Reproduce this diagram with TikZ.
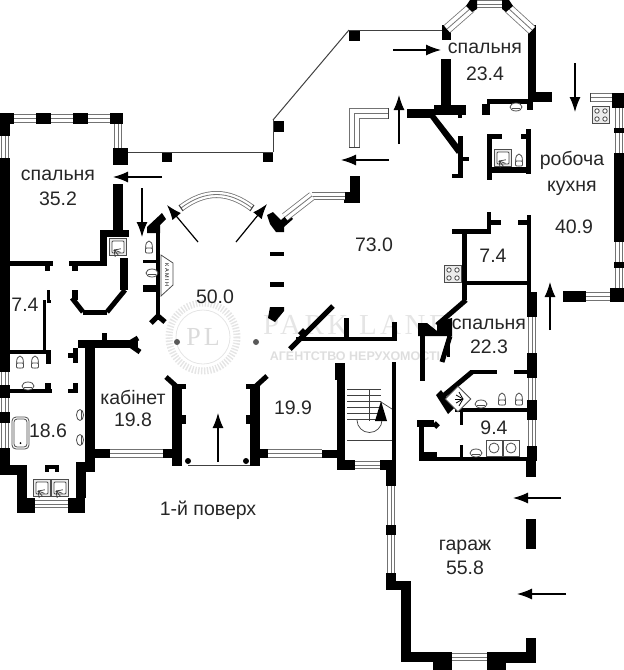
\documentclass[tikz,border=0pt]{standalone}
\usepackage{fontspec}
\setmainfont{Liberation Sans}
\newfontfamily\markfont[LetterSpace=12]{Liberation Serif}
\usetikzlibrary{arrows.meta}
%% window as three layers along a path
\newcommand{\winpath}[2][8.5pt]{%
  \draw[line width=#1,draw=black!55,line join=miter] #2;
  \draw[line width=#1-1.6pt,draw=white,line join=miter] #2;
  \draw[line width=.8pt,draw=black!55,line join=miter] #2;
}
\newcommand{\showerat}[2]{%
  \draw[fixture,fill=black!8] (#1-8.5,#2-8.5) rectangle (#1+8.5,#2+8.5);
  \draw[fixture,fill=white,rounded corners=1pt] (#1-6,#2-6) rectangle (#1+6,#2+6);
  \foreach \ang in {-10,20,50,80} {
    \draw[line width=.7pt,draw=black!80] (#1-4,#2+3) -- ++(\ang:7);
  }
}
\newcommand{\stoveat}[2]{%
  \draw[fixture,fill=black!8] (#1-8.5,#2-8.5) rectangle (#1+8.5,#2+8.5);
  \foreach \dx/\dy in {-4/-4,4/-4,-4/4,4/4} {
    \draw[fixture,fill=white] (#1+\dx,#2+\dy) circle (2.2);
  }
}
\newcommand{\toiletat}[2]{%
  \draw[fixture,fill=white] (#1,#2+2) ellipse (3.4 and 6);
  \draw[fixture,fill=white,rounded corners=1pt] (#1-3.5,#2+3) rectangle (#1+3.5,#2+8);
}
\newcommand{\sinkat}[2]{%
  \draw[fixture,fill=white] (#1,#2) ellipse (6 and 4);
  \draw[fixture] (#1-4,#2+1) -- (#1+4,#2+1);
}
\begin{document}
\begin{tikzpicture}
[x=1pt,y=-1pt,
  fixture/.style={draw=black!70,line width=.8pt},
  thinwall/.style={draw=black!75,line width=1pt},
  wallline/.style={draw=black,line width=5pt},
  arrowmark/.style={draw=black,line width=1.2pt,-{Latex[length=15pt,width=11pt]}},
  roomlabel/.style={font=\fontsize{19.5}{22}\selectfont,text=black!85,inner sep=0pt}]
\useasboundingbox (0,0) rectangle (624,670);
%% watermark
\draw[black!10,line width=7pt,dash pattern=on 1.4pt off 1.6pt] (203,337) circle (34);
\draw[black!10,line width=.8pt] (203,337) circle (27);
\node (markpl) at (203,337) [text=black!14,font=\markfont\fontsize{26}{28}\selectfont] {PL};
\node (markname) at (355,325) [text=black!10,font=\markfont\fontsize{29}{31}\selectfont] {PARK LANE};
\node (markagency) at (355,356) [text=black!13,font=\bfseries\fontsize{12.5}{14}\selectfont] {АГЕНТСТВО НЕРУХОМОСТІ};
%% solid walls
\foreach \xa/\ya/\xb/\yb in {
  0/113/14/124, 36/113/51/124, 73/113/88/124, 110/113/123/124,
  0/113/10/136, 0/158/10/372, 0/385/10/398, 0/412/10/423, 0/448/10/475,
  113/148/128/165, 113/184/123/235, 100/230/129/237, 100/237/107/265,
  120/258/128/290, 10/261/53/266, 69/261/107/266, 45/266/50/271, 72/266/78/271,
  47/290/50/300, 72/290/78/300, 43/300/46/353, 47/300/51/303,
  10/350/48/354, 46/350/51/364, 10/389/52/393, 45/383/51/393,
  68/389/78/393, 73/383/78/389, 68/353/78/358, 73/348/78/363,
  78/340/138/348, 102/333/107/340, 85/345/95/472, 95/449/110/458, 163/449/175/458,
  172/385/182/466, 173/384/186/389, 182/415/186/424,
  250/385/260/466, 246/384/255/389, 246/415/250/424, 260/449/268/458,
  0/465/27/475, 17/465/27/505, 17/498/35/513, 68/498/85/513, 76/463/86/498, 76/462/95/472,
  45/465/59/469, 45/465/49/472, 55/465/59/472,
  %% centre
  156/233/160/320, 143/260/157/263, 143/285/157/292,
  162/152/172/162, 263/152/273/162, 273/121/284/132, 349/30/360/41,
  270/252/284/256, 270/282/284/287,
  344/192/360/203, 350/176/360/200,
  296/337/397/341, 344/318/349/338, 392/322/397/338,
  %% upper bedroom
  441/59/451/105, 442/25/451/40, 528/25/536/100, 528/92/552/102,
  487/99/528/104, 482/104/490/115, 527/102/533/110,
  407/109/434/118, 434/105/466/115, 458/115/462/118,
  458/136/463/178, 463/157/469/161, 452/174/463/178,
  487/134/492/180, 487/134/502/139, 521/134/531/139, 526/129/531/174, 487/167/531/173,
  %% kitchen
  612/93/624/108, 614/128/624/133, 614/153/624/242, 614/262/624/268, 610/288/624/302,
  563/291/586/302, 452/229/491/234, 462/229/467/300, 487/212/491/231, 491/220/501/225,
  518/220/527/225, 527/215/531/292, 465/281/527/285,
  527/292/537/317, 527/353/537/378, 527/400/537/420, 527/446/537/461,
  %% lower right rooms
  420/335/425/381, 470/370/497/374, 514/370/527/374, 455/408/527/412,
  460/410/463/425, 460/445/463/457, 419/457/527/461, 419/452/437/461,
  419/420/424/455, 417/420/434/427, 447/335/450/357,
  %% stairs and garage
  335/363/345/380, 337/363/345/470, 392/362/396/480, 322/450/337/458,
  345/460/355/470, 380/460/396/470, 386/469/396/486, 386/525/396/535,
  386/573/396/590, 386/581/411/590, 401/581/411/662, 401/652/452/662,
  487/652/536/663, 526/638/536/663, 433/662/452/670, 487/662/506/670,
  526/460/536/477, 526/519/536/549
} {
  \fill[black] (\xa,\ya) rectangle (\xb,\yb);
}
%% walls that are not square
\fill[black] (147,227) -- (162,213) -- (166,219) -- (160,225) -- (160,233) -- (147,233) -- cycle;
\fill[black] (267,215) -- (273,212) -- (281,220) -- (289,213) -- (293,219) -- (284,227) -- (284,232) -- (276,232) -- (270,224) -- cycle;
\fill[black] (270,307) -- (284,307) -- (284,311) -- (275,322) -- (268,318) -- cycle;
\fill[black] (418,323) -- (427,323) -- (437,331) -- (437,322) -- (452,318) -- (452,336) -- (418,336) -- cycle;
\fill[black] (298,333) -- (303,328) -- (308,333) -- (303,338) -- cycle;
\fill[black] (425,111) -- (432,111) -- (461,148) -- (457,154) -- cycle;
\fill[black] (436,395) -- (441,390) -- (454,408) -- (448,414) -- cycle;
\foreach \xa/\ya/\xb/\yb in {
  125/290/107/312, 107/312/83/312, 83/312/72/298,
  158/316/151/323, 158/316/165/322,
  138/338/128/344, 140/352/130/345,
  166/377/176/386, 267/376/256/386,
  290/349/333/306, 466/300/437/325,
  442/397/472/372, 450/336/442/362,
  434/423/438/427
} {
  \draw[wallline] (\xa,\ya) -- (\xb,\yb);
}
%% windows
\foreach \xa/\ya/\xb/\yb in {
  14/118.5/36/118.5, 51/118.5/73/118.5, 88/118.5/110/118.5,
  118/124/118/148, 5/136/5/158, 5/372/5/385, 5/398/5/412, 5/423/5/448,
  110/453.5/163/453.5, 268/453.5/322/453.5, 35/504/68/504,
  590/97.5/612/97.5, 586/296.5/610/296.5,
  619/108/619/128, 619/133/619/153, 619/242/619/262, 619/268/619/288,
  532/317/532/353, 532/378/532/400, 532/420/532/446,
  355/465/380/465, 391/486/391/525, 391/535/391/573, 452/657/487/657,
  312/196/345/196, 477/4/502/4
} {
  \winpath{(\xa,\ya) -- (\xb,\yb)}
}
\winpath[10pt]{(447,29) -- (471,8)}
\winpath[10pt]{(508,8) -- (532,30)}
\winpath[9pt]{(285,217) -- (312,196)}
\winpath[11pt]{(388,113.5) -- (354.5,113.5) -- (354.5,147)}
\winpath[7pt]{(181,208) .. controls (205,190) and (228,190) .. (252,208)}
%% closed window ends
\draw[thinwall] (349,147) -- (360,147) (388,108) -- (388,119);
\draw[thinwall] (179,205) -- (183,211) (250,211) -- (254,205);
\draw[thinwall] (590,93) -- (590,102);
%% window piers of the bay
\fill[black] (470,0) -- (477,0) -- (477,9) -- (472,12) -- (466,6) -- cycle;
\fill[black] (502,0) -- (509,0) -- (513,6) -- (506,12) -- (502,9) -- cycle;
%% thin outlines
\foreach \xa/\ya/\xb/\yb in {
  128/152/273/152, 273/152/273/120, 273/120/349/30, 349/30/442/30, 188/465/250/465
} {
  \draw[thinwall] (\xa,\ya) -- (\xb,\yb);
}
\fill[black] (188,461) circle (3) (246,461) circle (3);
\fill[black!65] (177,342) circle (3) (256,342) circle (3);
%% stairs
\foreach \y in {389,395,...,419} {
  \draw[thinwall,line width=.7pt] (347,\y) -- (381,\y);
}
\draw[thinwall] (369,389) -- (369,421);
\draw[thinwall,line width=.7pt] (357,420) arc (180:0:12.5);
\draw[thinwall,line width=.7pt] (347,440) -- (392,440);
\draw[thinwall,line width=.7pt] (381,402) -- (392,409);
\fill[black] (381,401) -- (387,421) -- (375,421) -- cycle;
%% fireplace
\draw[fixture,fill=white] (161,255) -- (173,263) -- (173,285) -- (161,296) -- cycle;
\node (kamin) at (167,275) [rotate=-90,inner sep=0pt,font=\fontsize{5.5}{6}\selectfont] {К А М І Н};
%% fixtures
\foreach \x/\y in {118/247, 42/488, 60/488, 503/158} {
  \showerat{\x}{\y}
}
\begin{scope}[shift={(458,399)},rotate=45]
  \draw[fixture,fill=white] (-9,-9) rectangle (9,9);
\end{scope}
\foreach \ang in {120,150,180,210,240} {
  \draw[line width=.8pt] (463,399) -- ++(\ang:8);
}
\stoveat{601}{115}
\stoveat{453}{274}
\toiletat{20}{360}
\toiletat{35}{360}
\toiletat{519}{158}
\toiletat{502}{397}
\toiletat{519}{397}
\sinkat{28}{386}
\sinkat{516}{107}
\sinkat{481}{404}
\sinkat{476}{453}
\toiletat{149}{245}
\sinkat{152}{273}
%% washing machines
\foreach \x in {494,511} {
  \draw[fixture,fill=white] (\x-8,440) rectangle (\x+8,456);
  \draw[fixture] (\x,448) circle (5);
}
%% bath
\draw[fixture,fill=white,rounded corners=4pt] (12,417) rectangle (29,449);
\draw[fixture,rounded corners=3pt] (14,419) rectangle (27,447);
\fill[black] (20.5,443) circle (1);
\foreach \y in {415,440} {
  \draw[fixture,fill=white] (80,\y) ellipse (3.5 and 5.5);
  \draw[fixture] (81,\y-5) -- (81,\y+5);
}
%% arrows
\foreach \xa/\ya/\xb/\yb in {
  162/177/113/177, 142/188/142/237, 198/242/167/205, 236/242/267/204,
  218/462/218/413, 393/50/441/50, 575/63/575/112, 399/144/399/95,
  389/160/341/160, 550/330/550/282, 561/498/513/498, 566/594/517/594
} {
  \draw[arrowmark] (\xa,\ya) -- (\xb,\yb);
}
%% room labels
\foreach \nodename/\x/\y/\txt in {
  bed1name/58/175/спальня, bed1area/58/199/35.2,
  pantry1/25/305/7.4, bath1/48/431/18.6,
  studyname/133/397/кабінет, studyarea/133/420/19.8,
  hall/215/297/50.0, room2/293/408/19.9, living/374/245/73.0,
  pantry2/493/256/7.4, bed3name/489/324/спальня, bed3area/489/347/22.3,
  laundry/494/428/9.4, kitchenname/572/160/робоча, kitchenword/572/188/кухня,
  kitchenarea/574/227/40.9, bed2name/485/48/спальня, bed2area/485/74/23.4,
  garagename/465/547/гараж, garagearea/465/568/55.8, floorname/208/510/1-й поверх
} {
  \node (\nodename) at (\x,\y) [roomlabel] {\txt};
}
\end{tikzpicture}
\end{document}
